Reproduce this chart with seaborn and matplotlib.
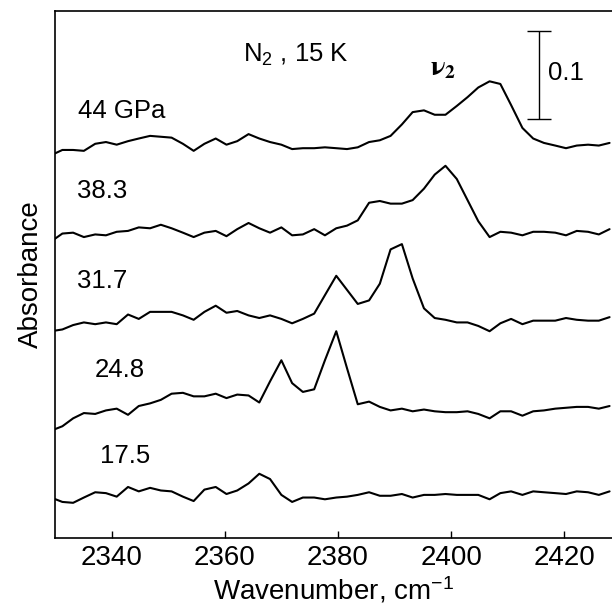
import numpy as np
import pandas as pd
import seaborn as sns
import matplotlib
matplotlib.use("Agg")
import matplotlib.pyplot as plt

# common wavenumber grid of the spectra (cm-1)
wavenumber = [2329.3, 2331.3, 2333.2, 2335.1, 2337.1, 2339.0, 2340.9, 2342.9, 2344.8, 2346.8,
              2348.7, 2350.6, 2352.6, 2354.5, 2356.4, 2358.4, 2360.3, 2362.2, 2364.2, 2366.1,
              2368.0, 2370.0, 2371.9, 2373.8, 2375.8, 2377.7, 2379.7, 2381.6, 2383.5, 2385.5,
              2387.4, 2389.3, 2391.3, 2393.2, 2395.2, 2397.1, 2399.0, 2401.0, 2402.9, 2404.8,
              2406.8, 2408.7, 2410.6, 2412.6, 2414.5, 2416.4, 2418.4, 2420.3, 2422.2, 2424.2,
              2426.1, 2428.0]

pressures = ["17.5", "24.8", "31.7", "38.3", "44 GPa"]
offsets = [0.05, 0.15, 0.25, 0.35, 0.45]

# absorbance of each spectrum relative to its own baseline
abs_17_5 = [-0.004, -0.009, -0.010, -0.004, 0.002, 0.001, -0.003, 0.008, 0.003, 0.007,
            0.004, 0.003, -0.003, -0.008, 0.005, 0.008, 0.000, 0.004, 0.012, 0.023,
            0.017, -0.001, -0.009, -0.004, -0.004, -0.006, -0.004, -0.003, -0.001, 0.002,
            -0.002, -0.002, 0.000, -0.004, -0.001, -0.001, 0.000, -0.001, -0.001, -0.001,
            -0.006, 0.001, 0.003, -0.001, 0.003, 0.002, 0.001, 0.000, 0.003, 0.002,
            -0.001, 0.003]
abs_24_8 = [-0.028, -0.023, -0.014, -0.008, -0.009, -0.005, -0.003, -0.010, 0.000, 0.003,
            0.007, 0.014, 0.015, 0.011, 0.011, 0.014, 0.009, 0.013, 0.012, 0.004,
            0.028, 0.052, 0.026, 0.016, 0.019, 0.052, 0.085, 0.043, 0.002, 0.005,
            -0.001, -0.005, -0.003, -0.006, -0.004, -0.006, -0.007, -0.007, -0.006, -0.009,
            -0.014, -0.006, -0.006, -0.011, -0.006, -0.005, -0.003, -0.002, -0.001, -0.001,
            -0.003, 0.000]
abs_31_7 = [-0.015, -0.013, -0.008, -0.005, -0.007, -0.005, -0.007, 0.004, -0.001, 0.007,
            0.007, 0.007, 0.003, -0.002, 0.007, 0.014, 0.006, 0.008, 0.003, 0.000,
            0.003, -0.001, -0.006, -0.001, 0.005, 0.026, 0.048, 0.032, 0.016, 0.020,
            0.039, 0.078, 0.084, 0.045, 0.011, 0.000, -0.002, -0.005, -0.005, -0.009,
            -0.015, -0.006, -0.001, -0.007, -0.003, -0.003, -0.003, 0.000, -0.002, -0.003,
            -0.003, 0.001]
abs_38_3 = [-0.013, -0.004, -0.003, -0.008, -0.005, -0.006, -0.002, -0.001, 0.003, 0.002,
            0.006, 0.002, -0.003, -0.008, -0.003, -0.001, -0.007, 0.001, 0.008, 0.002,
            -0.003, 0.003, -0.006, -0.005, 0.001, -0.006, 0.002, 0.005, 0.011, 0.031,
            0.033, 0.030, 0.030, 0.034, 0.047, 0.063, 0.073, 0.058, 0.034, 0.010,
            -0.008, -0.002, -0.003, -0.006, -0.002, -0.002, -0.003, -0.006, -0.001, -0.002,
            -0.005, 0.001]
abs_44 = [-0.015, -0.009, -0.009, -0.010, -0.002, 0.000, -0.003, 0.001, 0.004, 0.007,
          0.006, 0.005, -0.002, -0.010, -0.002, 0.004, -0.003, 0.001, 0.009, 0.004,
          0.000, -0.003, -0.008, -0.007, -0.007, -0.006, -0.007, -0.008, -0.006, 0.000,
          0.002, 0.007, 0.020, 0.034, 0.036, 0.031, 0.031, 0.041, 0.051, 0.062,
          0.069, 0.066, 0.042, 0.016, 0.004, -0.001, -0.004, -0.007, -0.004, -0.003,
          -0.004, -0.001]

spectra = [abs_17_5, abs_24_8, abs_31_7, abs_38_3, abs_44]

# label positions (wavenumber, stacked absorbance)
label_x = [2338.0, 2337.1, 2333.9, 2333.9, 2334.1]
label_y = [0.085, 0.183, 0.284, 0.386, 0.477]

rows = []
for p, off, a in zip(pressures, offsets, spectra):
    for w, v in zip(wavenumber, a):
        rows.append({"wavenumber": w, "absorbance": off + v, "pressure": p})
df = pd.DataFrame(rows)

sns.set_style("ticks")
plt.rcParams["font.family"] = ["Liberation Sans", "DejaVu Sans"]
plt.rcParams["mathtext.fontset"] = "custom"
plt.rcParams["mathtext.rm"] = "Liberation Sans"
plt.rcParams["mathtext.it"] = "Liberation Sans:italic"
plt.rcParams["mathtext.bf"] = "Liberation Sans:bold"
for k in ["text.color", "axes.labelcolor", "xtick.color", "ytick.color", "axes.edgecolor"]:
    plt.rcParams[k] = "black"

fig = plt.figure(figsize=(6.12, 6.12), dpi=100)
ax = fig.add_axes([0.0899, 0.1209, 0.9101, 0.8611])

sns.lineplot(data=df, x="wavenumber", y="absorbance", hue="pressure",
             palette=["black"] * 5, estimator=None, lw=1.5, legend=False, ax=ax)

for t, x, y in zip(pressures, label_x, label_y):
    ax.text(x, y, t, fontsize=18.5, va="baseline", ha="left")

ax.text(2363.3, 0.541, "N$_2$ , 15 K", fontsize=18.5, va="baseline", ha="left")
ax.text(2396.3, 0.526, r"$\mathbf{\nu_2}$", fontsize=20, va="baseline", ha="left",
        math_fontfamily="stix")

# 0.1 absorbance scale bar
ax.errorbar([2415.6], [0.526], yerr=[0.05], color="black", lw=1.0, capsize=8.4, capthick=1.0)
ax.text(2417.1, 0.520, "0.1", fontsize=18.5, va="baseline", ha="left")

ax.set_xlim(2330, 2428.43)
ax.set_ylim(0, 0.5989)
ax.set_xticks([2340, 2360, 2380, 2400, 2420])
ax.set_yticks([])
ax.tick_params(axis="x", direction="in", length=5, width=1, labelsize=20, pad=5)
ax.set_xlabel("Wavenumber, cm$^{-1}$", fontsize=20, labelpad=3)
ax.set_ylabel("Absorbance", fontsize=20, labelpad=8)
ax.spines["right"].set_visible(False)
for s in ["top", "left", "bottom"]:
    ax.spines[s].set_linewidth(1.2)

fig.savefig("out.png", dpi=100)
